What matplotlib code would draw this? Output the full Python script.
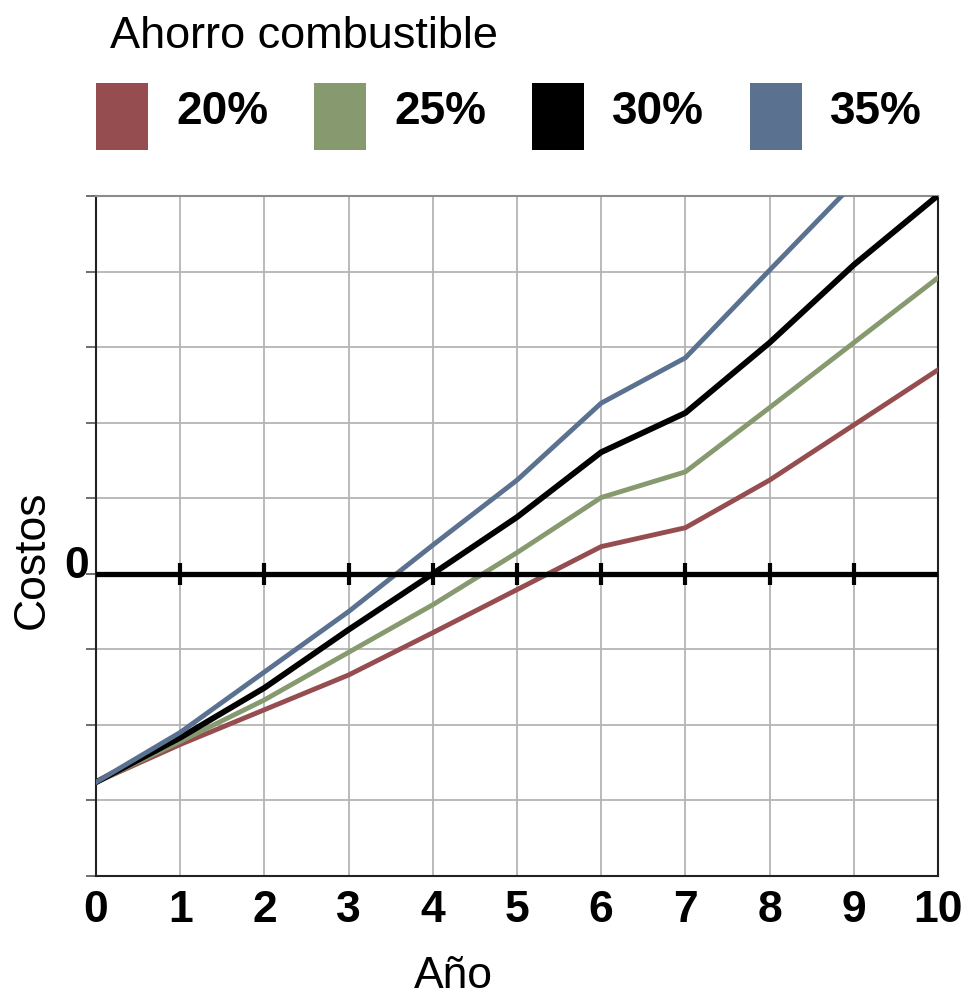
import matplotlib.pyplot as plt
from matplotlib.patches import Rectangle

# Costos acumulados por año para cada ahorro de combustible
anos = [0, 1, 2, 3, 4, 5, 6, 7, 8, 9, 10]
costo_20 = [-2.76, -2.26, -1.80, -1.34, -0.78, -0.21, 0.36, 0.61, 1.24, 1.97, 2.70]
costo_25 = [-2.76, -2.22, -1.67, -1.04, -0.41, 0.28, 1.01, 1.35, 2.20, 3.06, 3.92]
costo_30 = [-2.76, -2.17, -1.51, -0.74, 0.00, 0.75, 1.61, 2.13, 3.06, 4.09, 5.01]
costo_35 = [-2.76, -2.10, -1.30, -0.50, 0.38, 1.24, 2.26, 2.86, 4.02, 5.17, 6.30]

etiquetas = ['20%', '25%', '30%', '35%']
colores = ['#954d50', '#86996f', '#000000', '#5a7290']
anchos = [3.5, 3.5, 4.2, 3.5]

plt.rcParams['font.family'] = ['Liberation Sans', 'DejaVu Sans']

fig = plt.figure(figsize=(9.75, 10.01), dpi=100)
ax = fig.add_axes([0.0985, 0.125, 0.8635, 0.679])

for serie, color, lw in zip([costo_20, costo_25, costo_30, costo_35], colores, anchos):
    ax.plot(anos, serie, color=color, linewidth=lw, solid_joinstyle='round', zorder=3)

# linea del cero con marcas en cada año
ax.axhline(0, color='black', linewidth=3.8, zorder=4)
ax.plot(anos[1:-1], [0] * 9, linestyle='none', marker='|', markersize=16,
        markeredgewidth=3, color='black', zorder=4)

ax.set_xlim(0, 10)
ax.set_ylim(-4, 5)
ax.set_xticks(anos)
ax.set_xticklabels([str(a) for a in anos], fontsize=32, fontweight='bold')
ax.set_yticks(range(-4, 6))
ax.set_yticklabels([])
ax.tick_params(axis='x', length=0, pad=10)
ax.tick_params(axis='y', direction='out', length=7, width=1.2, color='#555555')
ax.grid(True, color='#b4b4b4', linewidth=1.3)
ax.set_axisbelow(True)

for lado in ['left', 'right', 'bottom']:
    ax.spines[lado].set_color('#222222')
    ax.spines[lado].set_linewidth(1.5)
ax.spines['top'].set_color('#8c8c8c')
ax.spines['top'].set_linewidth(1.5)

ax.text(-0.08, 0.1, '0', fontsize=32, fontweight='bold', ha='right', va='center',
        transform=ax.transData)

fig.text(453 / 975, 1 - 977 / 1001, 'Año', fontsize=32, ha='center', va='center')
fig.text(32 / 975, 1 - 560 / 1001, 'Costos', fontsize=32, ha='center', va='center',
         rotation=90)

# leyenda
fig.text(0.113, 1 - 36 / 1001, 'Ahorro combustible', fontsize=32.5, va='center', ha='left')
for i, (etiqueta, color) in enumerate(zip(etiquetas, colores)):
    x0 = (96 + 218 * i) / 975
    fig.add_artist(Rectangle((x0, 1 - 150 / 1001), 52 / 975, 67 / 1001,
                             transform=fig.transFigure, facecolor=color, edgecolor='none'))
    fig.text(x0 + 80 / 975, 1 - 112 / 1001, etiqueta, fontsize=33, fontweight='bold',
             va='center', ha='left')

fig.savefig('out.png', dpi=100)
